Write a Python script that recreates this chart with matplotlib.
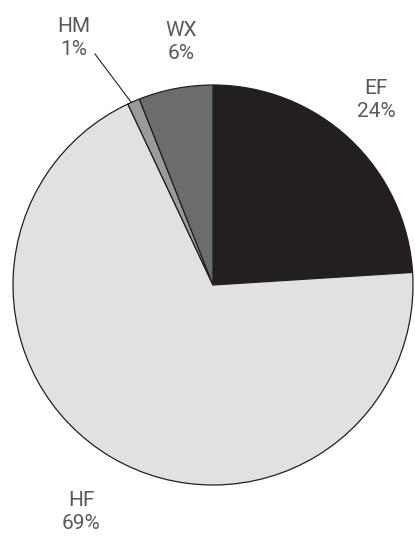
import matplotlib
matplotlib.use("Agg")
import matplotlib.pyplot as plt

# data
names = ["EF", "HF", "HM", "WX"]
shares = [24, 69, 1, 6]
colors = ["#231f20", "#e1e1e3", "#9a9b9d", "#6b6c6e"]

W, H = 415, 537
fig = plt.figure(figsize=(W / 100, H / 100), dpi=100)
ax = fig.add_axes([0, 0, 1, 1])

cx, cy, r = 213, H - 285, 200
ax.pie(shares, colors=colors, startangle=90, counterclock=False,
       center=(cx, cy), radius=r, frame=True,
       wedgeprops=dict(edgecolor="#231f20", linewidth=0.9))
ax.set_xlim(0, W)
ax.set_ylim(0, H)
ax.set_aspect("equal")
ax.axis("off")

# label positions in pixels (x, y from top)
label_pos = [(376, 100), (81, 512), (74, 38), (181, 42)]
for name, pct, (lx, ly) in zip(names, shares, label_pos):
    ax.text(lx, H - ly, f"{name}\n{pct}%", ha="center", va="center",
            fontsize=15, color="#5a5a5a", linespacing=1.3,
            family="Roboto")

# leader line for HM
ax.plot([95, 131], [H - 54, H - 102], color="#231f20", lw=0.8)

fig.savefig("out.png", dpi=100)
